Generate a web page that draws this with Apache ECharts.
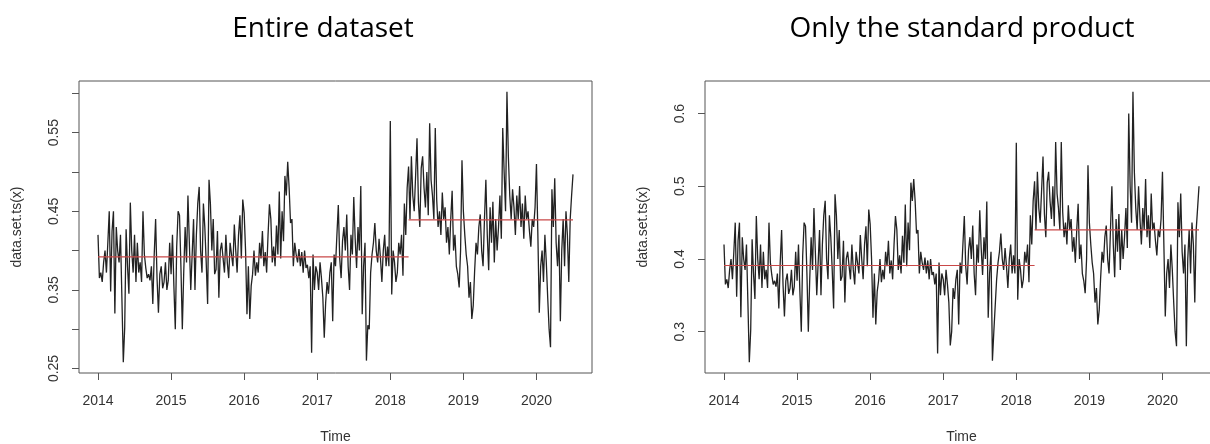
<!DOCTYPE html>
<html>
<head>
<meta charset="utf-8">
<title>Weekly series: entire dataset vs standard product</title>
<script src="https://cdn.jsdelivr.net/npm/echarts@6/dist/echarts.min.js"></script>
<style>
  html, body { margin: 0; padding: 0; background: #fff; }
  #chart { width: 1210px; height: 444px; }
</style>
</head>
<body>
<div id="chart"></div>
<script>
// Weekly time series, frequency 52, first observation at 2014.0
const startYear = 2014;
const frequency = 52;

// Entire dataset, one value per week (2014 .. mid 2020)
const entireDataset = [
  // 2014
  0.420,0.365,0.372,0.360,0.385,0.400,0.372,0.410,0.450,0.348,0.425,0.450,0.320,
  0.430,0.400,0.385,0.420,0.340,0.258,0.302,0.427,0.380,0.345,0.461,0.400,0.372,
  0.420,0.360,0.410,0.372,0.385,0.360,0.450,0.395,0.378,0.365,0.370,0.362,0.380,
  0.332,0.395,0.440,0.365,0.321,0.370,0.380,0.352,0.360,0.385,0.350,0.362,0.410,
  // 2015
  0.370,0.420,0.355,0.300,0.405,0.450,0.445,0.380,0.300,0.372,0.430,0.385,0.470,
  0.410,0.350,0.395,0.440,0.350,0.420,0.460,0.481,0.400,0.372,0.460,0.430,0.385,
  0.332,0.490,0.459,0.400,0.440,0.370,0.376,0.425,0.340,0.400,0.410,0.390,0.372,
  0.420,0.385,0.365,0.410,0.395,0.380,0.433,0.400,0.372,0.420,0.445,0.390,0.465,
  // 2016
  0.448,0.400,0.319,0.380,0.313,0.355,0.370,0.400,0.368,0.385,0.372,0.410,0.390,
  0.425,0.380,0.398,0.372,0.420,0.459,0.440,0.385,0.405,0.380,0.432,0.395,0.475,
  0.390,0.450,0.412,0.495,0.470,0.513,0.480,0.435,0.440,0.380,0.410,0.395,0.385,
  0.402,0.380,0.398,0.372,0.400,0.378,0.382,0.365,0.380,0.270,0.395,0.350,0.380,
  // 2017
  0.372,0.350,0.385,0.365,0.340,0.289,0.334,0.360,0.345,0.372,0.385,0.310,0.395,
  0.380,0.420,0.458,0.390,0.365,0.412,0.430,0.400,0.446,0.380,0.350,0.420,0.395,
  0.468,0.415,0.378,0.430,0.400,0.482,0.319,0.380,0.410,0.260,0.305,0.300,0.372,
  0.395,0.410,0.435,0.400,0.385,0.415,0.390,0.360,0.400,0.420,0.380,0.405,0.380,
  // 2018
  0.565,0.344,0.400,0.385,0.360,0.372,0.410,0.395,0.420,0.368,0.460,0.420,0.480,
  0.507,0.440,0.520,0.470,0.450,0.495,0.543,0.462,0.430,0.505,0.520,0.480,0.455,
  0.500,0.445,0.562,0.490,0.470,0.440,0.556,0.465,0.430,0.450,0.420,0.474,0.440,
  0.455,0.410,0.430,0.395,0.440,0.476,0.400,0.420,0.380,0.370,0.353,0.400,0.515,
  // 2019
  0.450,0.420,0.395,0.380,0.340,0.360,0.313,0.330,0.374,0.410,0.395,0.430,0.446,
  0.400,0.380,0.440,0.490,0.420,0.375,0.455,0.410,0.462,0.385,0.440,0.400,0.430,
  0.470,0.415,0.556,0.500,0.450,0.602,0.520,0.470,0.440,0.478,0.455,0.420,0.470,
  0.440,0.482,0.430,0.460,0.415,0.470,0.440,0.450,0.425,0.405,0.440,0.430,0.455,
  // 2020
  0.510,0.420,0.321,0.380,0.400,0.360,0.420,0.385,0.340,0.300,0.277,0.478,0.430,
  0.492,0.410,0.380,0.420,0.310,0.400,0.440,0.380,0.450,0.420,0.360,0.440,0.470,
  0.497
];

// Standard product only, one value per week
const standardProduct = [
  // 2014
  0.420,0.365,0.372,0.360,0.385,0.400,0.372,0.410,0.450,0.348,0.425,0.450,0.320,
  0.430,0.400,0.385,0.420,0.340,0.258,0.302,0.427,0.380,0.345,0.459,0.400,0.372,
  0.420,0.360,0.410,0.372,0.385,0.360,0.450,0.395,0.378,0.365,0.370,0.362,0.380,
  0.332,0.395,0.440,0.365,0.321,0.370,0.380,0.352,0.360,0.385,0.350,0.362,0.410,
  // 2015
  0.370,0.420,0.355,0.300,0.405,0.450,0.445,0.380,0.300,0.372,0.430,0.385,0.470,
  0.410,0.350,0.395,0.440,0.350,0.420,0.460,0.480,0.400,0.372,0.460,0.430,0.385,
  0.332,0.489,0.459,0.400,0.440,0.370,0.376,0.425,0.340,0.400,0.410,0.390,0.372,
  0.420,0.385,0.365,0.410,0.395,0.380,0.433,0.400,0.372,0.420,0.445,0.390,0.468,
  // 2016
  0.448,0.400,0.319,0.380,0.310,0.355,0.370,0.400,0.368,0.385,0.372,0.410,0.390,
  0.425,0.380,0.398,0.372,0.420,0.459,0.440,0.385,0.405,0.380,0.432,0.395,0.475,
  0.390,0.450,0.412,0.505,0.480,0.510,0.480,0.435,0.440,0.380,0.410,0.395,0.385,
  0.402,0.380,0.398,0.372,0.400,0.378,0.382,0.365,0.380,0.270,0.395,0.350,0.380,
  // 2017
  0.372,0.350,0.385,0.365,0.340,0.281,0.300,0.360,0.345,0.372,0.385,0.310,0.395,
  0.380,0.420,0.459,0.390,0.365,0.412,0.430,0.400,0.446,0.380,0.350,0.420,0.395,
  0.467,0.415,0.378,0.430,0.400,0.479,0.319,0.380,0.410,0.260,0.300,0.300,0.372,
  0.395,0.410,0.435,0.400,0.385,0.415,0.390,0.360,0.400,0.420,0.380,0.405,0.380,
  // 2018
  0.560,0.344,0.400,0.385,0.360,0.372,0.410,0.395,0.420,0.368,0.460,0.420,0.480,
  0.507,0.440,0.520,0.470,0.450,0.495,0.541,0.462,0.430,0.505,0.520,0.480,0.455,
  0.500,0.445,0.561,0.490,0.470,0.440,0.561,0.465,0.430,0.450,0.420,0.474,0.440,
  0.455,0.410,0.430,0.395,0.440,0.476,0.400,0.420,0.380,0.370,0.353,0.400,0.529,
  // 2019
  0.450,0.420,0.395,0.380,0.340,0.360,0.310,0.330,0.374,0.410,0.395,0.430,0.446,
  0.400,0.380,0.440,0.500,0.420,0.375,0.455,0.410,0.462,0.385,0.440,0.400,0.430,
  0.470,0.415,0.600,0.500,0.450,0.630,0.520,0.470,0.440,0.500,0.455,0.420,0.470,
  0.440,0.510,0.430,0.460,0.415,0.490,0.440,0.450,0.425,0.405,0.440,0.430,0.455,
  // 2020
  0.520,0.420,0.321,0.380,0.400,0.360,0.420,0.385,0.340,0.300,0.280,0.478,0.430,
  0.490,0.410,0.380,0.420,0.280,0.400,0.440,0.380,0.450,0.420,0.340,0.440,0.470,
  0.500
];

// Level-shift segments: the mean before and after the break
const segmentBounds = [2014, 2018.25, 2020.5];
const entireMeans = [0.392, 0.439];
const standardMeans = [0.391, 0.440];

// Tick positions
const yearTicks = [2014, 2015, 2016, 2017, 2018, 2019, 2020];
const entireYTicks = [0.25, 0.30, 0.35, 0.40, 0.45, 0.50, 0.55, 0.60];
const entireYLabels = [0.25, 0.35, 0.45, 0.55];
const standardYTicks = [0.3, 0.4, 0.5, 0.6];

const panelTitles = ['Entire dataset', 'Only the standard product'];
const xName = 'Time';
const yName = 'data.set.ts(x)';

function toPairs(values) {
  return values.map((v, i) => [startYear + i / frequency, v]);
}

// Axis range with 4% padding on each side of the data range
function padded(lo, hi) {
  const d = (hi - lo) * 0.04;
  return [lo - d, hi + d];
}

const xRange = padded(startYear, startYear + (entireDataset.length - 1) / frequency);
const yRangeA = padded(Math.min(...entireDataset), Math.max(...entireDataset));
const yRangeB = padded(Math.min(...standardProduct), Math.max(...standardProduct));

const axisColor = '#555';
const textColor = '#333';
const labelFont = '"Liberation Sans", Arial, sans-serif';

function xAxisFor(gridIndex) {
  return {
    gridIndex,
    type: 'value',
    min: xRange[0],
    max: xRange[1],
    axisLine: { show: false },
    splitLine: { show: false },
    axisTick: { show: true, length: 7, lineStyle: { color: axisColor, width: 1 }, customValues: yearTicks },
    axisLabel: { customValues: yearTicks, formatter: v => String(v), margin: 21, fontSize: 14, color: textColor, fontFamily: labelFont },
    name: xName,
    nameLocation: 'middle',
    nameGap: 57,
    nameTextStyle: { fontSize: 14, color: textColor, fontFamily: labelFont }
  };
}

function yAxisFor(gridIndex, range, ticks, labels) {
  return {
    gridIndex,
    type: 'value',
    min: range[0],
    max: range[1],
    axisLine: { show: false },
    splitLine: { show: false },
    axisTick: { show: true, length: 7, lineStyle: { color: axisColor, width: 1 }, customValues: ticks },
    axisLabel: { customValues: labels, rotate: 90, margin: 18, fontSize: 14, color: textColor, fontFamily: labelFont },
    name: yName,
    nameLocation: 'middle',
    nameGap: 55,
    nameRotate: 90,
    nameTextStyle: { fontSize: 14, color: textColor, fontFamily: labelFont }
  };
}

function seriesLine(idx, values) {
  return {
    type: 'line',
    xAxisIndex: idx,
    yAxisIndex: idx,
    data: toPairs(values),
    showSymbol: false,
    symbol: 'none',
    lineStyle: { color: '#222', width: 1.3 },
    z: 2
  };
}

function meanSegments(idx, means) {
  return means.map((m, k) => ({
    type: 'line',
    xAxisIndex: idx,
    yAxisIndex: idx,
    data: [[segmentBounds[k], m], [segmentBounds[k + 1], m]],
    showSymbol: false,
    symbol: 'none',
    lineStyle: { color: '#c94848', width: 1.2 },
    z: 3
  }));
}

const chart = echarts.init(document.getElementById('chart'), null, { renderer: 'canvas' });

const titleStyle = { fontSize: 28, fontWeight: 'normal', color: '#000', fontFamily: '"Open Sans", sans-serif' };

const gridBase = {
  top: 81, width: 513, height: 292, show: true,
  borderColor: axisColor, borderWidth: 1, backgroundColor: 'transparent',
  containLabel: false, outerBoundsMode: 'none'
};

chart.setOption({
  animation: false,
  backgroundColor: '#fff',
  title: [
    { text: panelTitles[0], left: 318, top: 10, textAlign: 'center', textStyle: titleStyle },
    { text: panelTitles[1], left: 957, top: 10, textAlign: 'center', textStyle: titleStyle }
  ],
  grid: [
    Object.assign({ left: 79 }, gridBase),
    Object.assign({ left: 705 }, gridBase)
  ],
  xAxis: [xAxisFor(0), xAxisFor(1)],
  yAxis: [
    yAxisFor(0, yRangeA, entireYTicks, entireYLabels),
    yAxisFor(1, yRangeB, standardYTicks, standardYTicks)
  ],
  series: [
    seriesLine(0, entireDataset),
    ...meanSegments(0, entireMeans),
    seriesLine(1, standardProduct),
    ...meanSegments(1, standardMeans)
  ]
});
</script>
</body>
</html>
